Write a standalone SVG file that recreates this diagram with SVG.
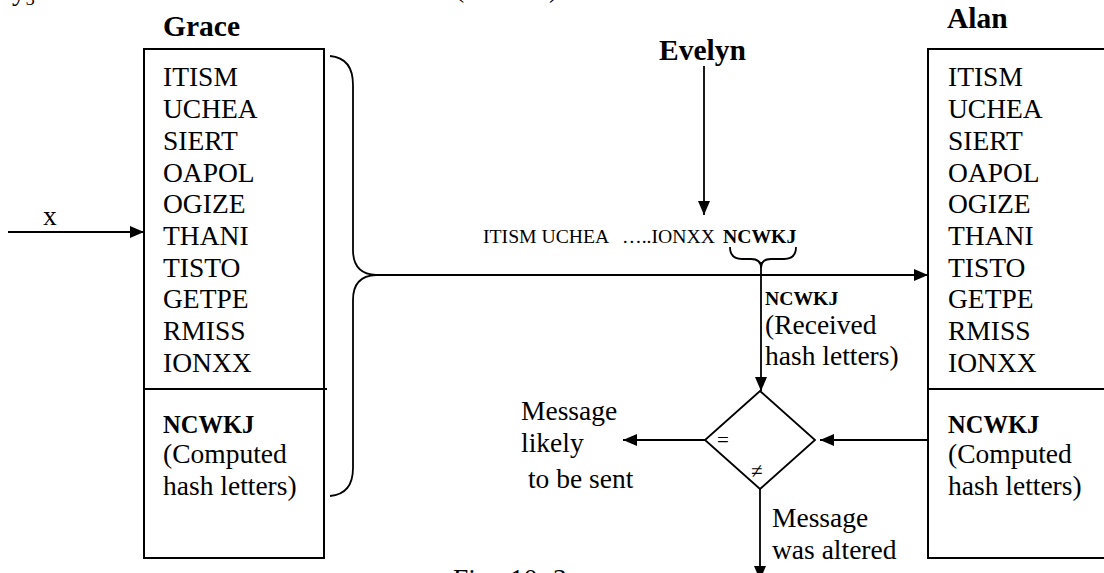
<svg xmlns="http://www.w3.org/2000/svg" width="1104" height="573" viewBox="0 0 1104 573">
<style>
text{font-family:"Liberation Serif","Times New Roman",serif;fill:#000}
.t{font-size:27.5px}
.lbl{font-size:29.5px;font-weight:bold}
.hb{font-size:24.5px;font-weight:bold}
.sm{font-size:19.7px}
.smb{font-size:19.7px;font-weight:bold}
.tiny{font-size:21px}
.box{fill:#fff;stroke:#000;stroke-width:2}
.ln{fill:none;stroke:#000;stroke-width:1.8}
</style>
<defs>
<marker id="ah" markerWidth="14" markerHeight="12" refX="14" refY="6" orient="auto" markerUnits="userSpaceOnUse"><path d="M0,0 L14,6 L0,12 z" fill="#000"/></marker>
</defs>
<rect width="1104" height="573" fill="#fff"/>
<g id="fragments">
<text class="t" x="12" y="0">y<tspan font-size="18px" dy="5">3</tspan></text>
<text class="t" x="455" y="-3">(</text>
<text class="t" x="549" y="-3">)</text>
<text class="t" y="588"><tspan x="453">Fig.</tspan><tspan x="510">10.</tspan><tspan x="553">3</tspan></text>
</g>
<g id="grace">
<text class="lbl" x="163" y="36">Grace</text>
<rect class="box" x="144" y="49" width="180" height="509"/>
<line class="ln" x1="144" y1="389" x2="327" y2="389" stroke-width="2"/>
<text class="t" x="163">
<tspan x="163" y="86">ITISM</tspan>
<tspan x="163" y="118">UCHEA</tspan>
<tspan x="163" y="150">SIERT</tspan>
<tspan x="163" y="182">OAPOL</tspan>
<tspan x="163" y="213">OGIZE</tspan>
<tspan x="163" y="245">THANI</tspan>
<tspan x="163" y="277">TISTO</tspan>
<tspan x="163" y="308">GETPE</tspan>
<tspan x="163" y="340">RMISS</tspan>
<tspan x="163" y="372">IONXX</tspan>
</text>
<text class="hb" x="163" y="433">NCWKJ</text>
<text class="t" x="163" y="463">(Computed</text>
<text class="t" x="163" y="495">hash letters)</text>
</g>
<g id="alan">
<text class="lbl" x="947" y="28">Alan</text>
<rect class="box" x="928" y="49" width="190" height="509"/>
<line class="ln" x1="928" y1="389" x2="1110" y2="389" stroke-width="2"/>
<text class="t">
<tspan x="948" y="86">ITISM</tspan>
<tspan x="948" y="118">UCHEA</tspan>
<tspan x="948" y="150">SIERT</tspan>
<tspan x="948" y="182">OAPOL</tspan>
<tspan x="948" y="213">OGIZE</tspan>
<tspan x="948" y="245">THANI</tspan>
<tspan x="948" y="277">TISTO</tspan>
<tspan x="948" y="308">GETPE</tspan>
<tspan x="948" y="340">RMISS</tspan>
<tspan x="948" y="372">IONXX</tspan>
</text>
<text class="hb" x="948" y="433">NCWKJ</text>
<text class="t" x="948" y="463">(Computed</text>
<text class="t" x="948" y="495">hash letters)</text>
</g>
<g id="evelyn">
<text class="lbl" x="659" y="60">Evelyn</text>
</g>
<g id="message">
<text class="sm" y="243"><tspan x="483">ITISM UCHEA</tspan><tspan x="622">…..IONXX</tspan><tspan x="723" class="smb">NCWKJ</tspan></text>
</g>
<g id="received">
<text class="smb" x="765" y="305">NCWKJ</text>
<text class="t" x="765" y="334">(Received</text>
<text class="t" x="765" y="365">hash letters)</text>
</g>
<g id="compare">
<path class="ln" d="M760,391 L815,440 L760,489 L705,440 Z" fill="#fff"/>
<text class="tiny" x="717" y="447">=</text>
<text class="tiny" x="751" y="478">≠</text>
</g>
<g id="outcome-ok">
<text class="t" x="521" y="420">Message</text>
<text class="t" x="521" y="452">likely</text>
<text class="t" x="521" y="488" xml:space="preserve"> to be sent</text>
</g>
<g id="outcome-altered">
<text class="t" x="772" y="527">Message</text>
<text class="t" x="772" y="559">was altered</text>
</g>
<g id="connectors">
<path class="ln" d="M330,56 Q353,58 353,85 L353,250 Q353,274 376,275 Q353,276 353,300 L353,468 Q353,494 330,496"/>
<path class="ln" d="M730,247 Q730,259 742,259 L751,259 Q761,259 761,268 Q761,259 771,259 L784,259 Q796,259 796,247"/>
<line class="ln" x1="8" y1="232" x2="144" y2="232" marker-end="url(#ah)"/>
<text class="t" x="43" y="225">x</text>
<line class="ln" x1="704" y1="66" x2="704" y2="215" marker-end="url(#ah)"/>
<line class="ln" x1="376" y1="275" x2="928" y2="275" marker-end="url(#ah)"/>
<line class="ln" x1="761" y1="262" x2="761" y2="391" marker-end="url(#ah)"/>
<line class="ln" x1="705" y1="440" x2="623" y2="440" marker-end="url(#ah)"/>
<line class="ln" x1="928" y1="440" x2="820" y2="440" marker-end="url(#ah)"/>
<line class="ln" x1="760" y1="489" x2="760" y2="580" marker-end="url(#ah)"/>
</g>
</svg>
